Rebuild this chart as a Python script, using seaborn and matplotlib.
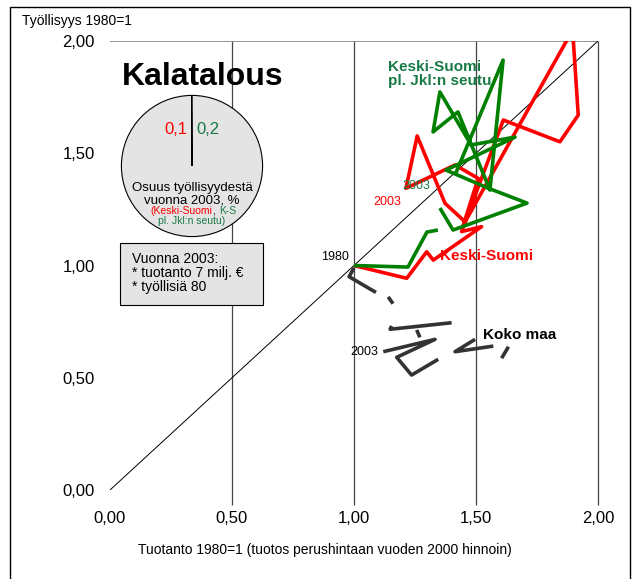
import numpy as np
import pandas as pd
import matplotlib
matplotlib.use('Agg')
import matplotlib.pyplot as plt
import seaborn as sns
from matplotlib.patches import Rectangle

# Koko maa: employment vs. output index (1980=1); seg breaks where years are missing
koko_x = [1.00, 0.98, 1.09, 1.14, 1.16, 1.154, 1.148, 1.40, 1.257, 1.27,
          1.605, 1.633, 1.571, 1.414, 1.496, 1.345, 1.236, 1.175, 1.332, 1.120]
koko_y = [0.99, 0.95, 0.88, 0.86, 0.83, 0.731, 0.716, 0.745, 0.713, 0.68,
          0.587, 0.638, 0.641, 0.616, 0.671, 0.582, 0.512, 0.591, 0.671, 0.616]
koko_seg = [0, 0, 0, 1, 1, 2, 2, 2, 3, 3, 4, 4, 5, 5, 5, 6, 6, 6, 6, 6]

# Keski-Suomi
ks_x = [1.00, 1.216, 1.298, 1.325, 1.523, 1.441, 1.612, 1.844, 1.919, 1.896,
        1.448, 1.509, 1.414, 1.213, 1.259, 1.373, 1.455]
ks_y = [1.00, 0.943, 1.061, 1.024, 1.173, 1.151, 1.648, 1.551, 1.670, 2.049,
        1.180, 1.388, 1.448, 1.344, 1.577, 1.277, 1.195]

# Keski-Suomi pl. Jkl:n seutu
ksp_x = [1.00, 1.221, 1.299, 1.344, 1.352, 1.406, 1.709, 1.549, 1.377, 1.660,
         1.480, 1.352, 1.324, 1.426, 1.557, 1.611, 1.414]
ksp_y = [1.00, 0.993, 1.149, 1.158, 1.256, 1.158, 1.278, 1.345, 1.425, 1.572,
         1.537, 1.773, 1.595, 1.684, 1.336, 1.915, 1.403]
ksp_seg = [0, 0, 0, 0, 1, 1, 1, 1, 1, 1, 1, 1, 1, 1, 1, 1, 1]

# share of employment 2003, %
share_ks = 0.1
share_ksp = 0.2

ticks = [0, 0.5, 1.0, 1.5, 2.0]
tick_labels = ['0,00', '0,50', '1,00', '1,50', '2,00']

RED = '#ff0000'
GREEN = '#008000'
TGREEN = '#187a45'
DARK = '#333333'
GREY_FILL = '#e4e4e4'

sns.set_style('white')
plt.rcParams['font.family'] = ['Liberation Sans', 'DejaVu Sans']
plt.rcParams['text.color'] = 'black'
plt.rcParams['xtick.color'] = 'black'
plt.rcParams['ytick.color'] = 'black'

W, H = 637, 579
fig = plt.figure(figsize=(W / 100, H / 100), dpi=100)


def px(x, y):
    return x / W, 1 - y / H


ax = fig.add_axes([110 / W, 89 / H, 488 / W, 449 / H])

# grid / frame lines
ax.vlines(ticks[1:], -0.067, 2.0, color='#444444', lw=0.9, clip_on=False, zorder=1)
ax.axhline(2.0, color='#808080', lw=1.2, zorder=1)
ax.plot([0, 2], [0, 2], color='black', lw=0.7, zorder=2)

koko = pd.DataFrame({'x': koko_x, 'y': koko_y, 'seg': koko_seg})
ks = pd.DataFrame({'x': ks_x, 'y': ks_y, 'seg': 0})
ksp = pd.DataFrame({'x': ksp_x, 'y': ksp_y, 'seg': ksp_seg})

line_kw = dict(estimator=None, sort=False, ax=ax, lw=2.6, legend=False,
               solid_joinstyle='round', solid_capstyle='butt', zorder=3)
sns.lineplot(data=koko, x='x', y='y', units='seg', color=DARK, **line_kw)
sns.lineplot(data=ks, x='x', y='y', units='seg', color=RED, **line_kw)
sns.lineplot(data=ksp, x='x', y='y', units='seg', color=GREEN, **line_kw)

ax.set_xlim(0, 2)
ax.set_ylim(0, 2)
for s in ax.spines.values():
    s.set_visible(False)
ax.set_xticks(ticks, tick_labels)
ax.set_yticks(ticks, tick_labels)
ax.tick_params(axis='x', length=0, labelsize=12, pad=15)
ax.tick_params(axis='y', length=0, labelsize=12, pad=11)
ax.set_xlabel('')
ax.set_ylabel('')

# series labels
ax.text(0.98, 1.04, '1980', fontsize=9, ha='right', va='center')
ax.text(1.10, 0.615, '2003', fontsize=9, ha='right', va='center')
ax.text(1.53, 0.69, 'Koko maa', fontsize=11, fontweight='bold', ha='left', va='center')
ax.text(1.352, 1.042, 'Keski-Suomi', fontsize=11, fontweight='bold', color=RED,
        ha='left', va='center')
ax.text(1.139, 1.853, 'Keski-Suomi\npl. Jkl:n seutu', fontsize=11, fontweight='bold',
        color=TGREEN, ha='left', va='center', linespacing=1.0)
ax.text(1.197, 1.354, '2003', fontsize=9, color=TGREEN, ha='left', va='center')
ax.text(1.078, 1.283, '2003', fontsize=9, color=RED, ha='left', va='center')

# axis titles
fig.text(*px(22, 25), 'Työllisyys 1980=1', fontsize=10, ha='left', va='baseline')
fig.text(*px(325, 550), 'Tuotanto 1980=1 (tuotos perushintaan vuoden 2000 hinnoin)',
         fontsize=10, ha='center', va='center')
fig.text(*px(122, 85), 'Kalatalous', fontsize=23, fontweight='bold', ha='left', va='baseline')

# pie of employment share
pax = fig.add_axes([120 / W, 1 - 238 / H, 144 / W, 144 / H])
pax.pie([share_ks, 100 - share_ks], colors=[RED, GREY_FILL], startangle=90,
        wedgeprops=dict(edgecolor='black', linewidth=0.8))
pax.set_xlim(-1.02, 1.02)
pax.set_ylim(-1.02, 1.02)
pax.set_aspect('equal')
pax.axis('off')

fig.text(*px(176, 130), f'{share_ks:.1f}'.replace('.', ','), fontsize=12, color=RED,
         ha='center', va='center')
fig.text(*px(208, 130), f'{share_ksp:.1f}'.replace('.', ','), fontsize=12, color=TGREEN,
         ha='center', va='center')
fig.text(*px(192, 191), 'Osuus työllisyydestä', fontsize=9.5, ha='center', va='baseline')
fig.text(*px(192, 203), 'vuonna 2003, %', fontsize=9.5, ha='center', va='baseline')
fig.text(*px(212, 214), '(Keski-Suomi', fontsize=7.5, color=RED, ha='right', va='baseline')
fig.text(*px(212, 214), ',', fontsize=7.5, color='black', ha='left', va='baseline')
fig.text(*px(219, 214), 'K-S', fontsize=7.5, color=TGREEN, ha='left', va='baseline')
fig.text(*px(192, 224), 'pl. Jkl:n seutu)', fontsize=7.5, color=TGREEN, ha='center', va='baseline')

# info box
fig.patches.append(Rectangle(px(120, 305), 143 / W, 62 / H, transform=fig.transFigure,
                             facecolor=GREY_FILL, edgecolor='black', lw=0.8, zorder=5))
fig.text(*px(132, 259), 'Vuonna 2003:', fontsize=10, ha='left', va='center', zorder=6)
fig.text(*px(132, 273), '* tuotanto 7 milj. €', fontsize=10, ha='left', va='center', zorder=6)
fig.text(*px(132, 287), '* työllisiä 80', fontsize=10, ha='left', va='center', zorder=6)

# outer frame
fig.patches.append(Rectangle((10 / W, -0.01), 620 / W, 1 - 7 / H + 0.01,
                             transform=fig.transFigure, fill=False, edgecolor='black', lw=1.0))

fig.savefig('out.png', dpi=100)
